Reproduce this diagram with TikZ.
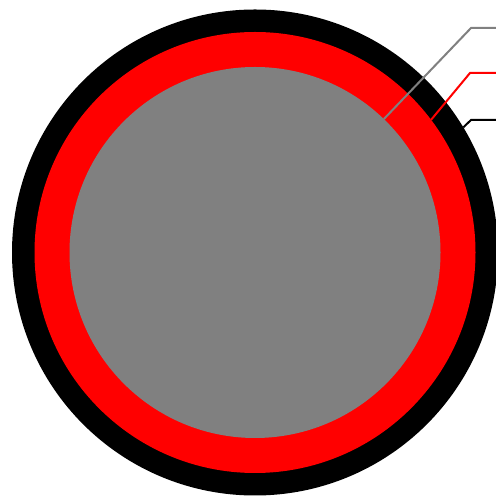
\documentclass[tikz,border=0pt]{standalone}
\begin{document}
\begin{tikzpicture}[x=1pt,y=1pt,
  disc/.style={circle,inner sep=0pt,outer sep=0pt,draw=none},
  leader/.style={line width=2pt,line join=miter}]
\useasboundingbox (0,0) rectangle (495,497);
\node[disc,fill=black,minimum size=486] (outer) at (255,244.5) {};
\node[disc,fill=red,minimum size=441] (mid) at (255,244.5) {};
\node[disc,fill=gray,minimum size=371] (inner) at (255,244.5) {};
\coordinate (ge) at (496,469);
\coordinate (re) at (496,424);
\coordinate (be) at (496,377);
\draw[leader,gray] (inner.46.9) -- (471,469) -- (ge);
\draw[leader,red] (mid.37.9) -- (470,424) -- (re);
\draw[leader,black] (outer.31) -- (471,377) -- (be);
\end{tikzpicture}
\end{document}
